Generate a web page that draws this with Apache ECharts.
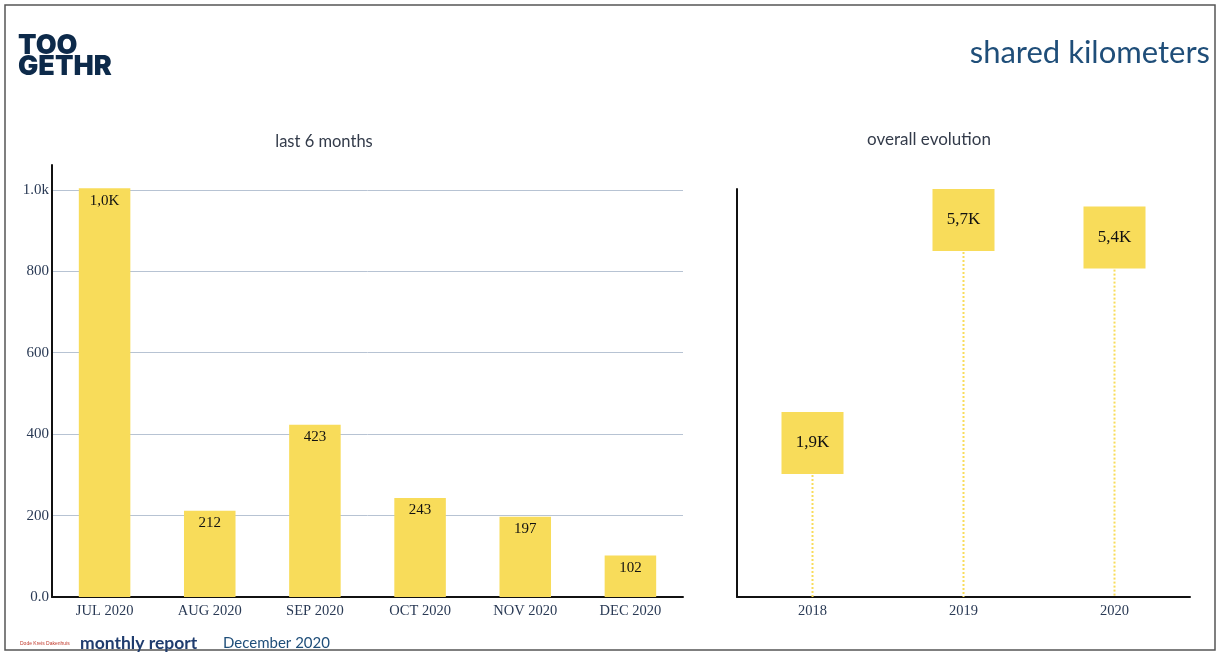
<!DOCTYPE html>
<html>
<head>
<meta charset="utf-8">
<script src="https://cdn.jsdelivr.net/npm/echarts@6/dist/echarts.min.js"></script>
<style>
html,body{margin:0;padding:0;background:#fff;}
#main{width:1217px;height:652px;}
</style>
</head>
<body>
<div id="main"></div>
<script>
// ---- data ----
const monthCategories = ['JUL 2020', 'AUG 2020', 'SEP 2020', 'OCT 2020', 'NOV 2020', 'DEC 2020'];
const monthValues = [1004, 212, 423, 243, 197, 102];
const yearCategories = ['2018', '2019', '2020'];
const yearValues = [1900, 5700, 5400];
const leftTickLabels = {0: '0.0', 200: '200', 400: '400', 600: '600', 800: '800', 1000: '1.0k'};

const YELLOW = '#f8dc5a';
const AXIS_TXT = '#2a3a55';
const SERIF = '"Liberation Serif", "DejaVu Serif", serif';
const SANS = 'Lato, "Open Sans", "Liberation Sans", sans-serif';
const RIGHT_MIN = -724;

function fmtK(v) {
  if (v >= 1000) return (v / 1000).toFixed(1).replace('.', ',') + 'K';
  return String(v);
}

const chart = echarts.init(document.getElementById('main'), null, {renderer: 'canvas'});

const option = {
  backgroundColor: '#fff',
  animation: false,
  title: [
    {text: 'last 6 months', left: 319, top: 128, textAlign: 'center',
     textStyle: {fontFamily: SANS, fontSize: 16.5, fontWeight: 'normal', color: '#333b4a'}},
    {text: 'overall evolution', left: 924, top: 126, textAlign: 'center',
     textStyle: {fontFamily: SANS, fontSize: 17, fontWeight: 'normal', color: '#333b4a'}}
  ],
  grid: [
    {left: 52, right: 534, top: 165, bottom: 55, containLabel: false},
    {left: 737, right: 27, top: 189, bottom: 55, containLabel: false}
  ],
  xAxis: [
    {type: 'category', gridIndex: 0, data: monthCategories,
     axisLine: {onZero: false, lineStyle: {color: '#111', width: 2}},
     axisTick: {show: false},
     axisLabel: {fontFamily: SERIF, fontSize: 14.5, color: AXIS_TXT, margin: 7}},
    {type: 'category', gridIndex: 1, data: yearCategories,
     axisLine: {onZero: false, lineStyle: {color: '#111', width: 2}},
     axisTick: {show: false},
     axisLabel: {fontFamily: SERIF, fontSize: 14.5, color: AXIS_TXT, margin: 7}}
  ],
  yAxis: [
    {type: 'value', gridIndex: 0, min: 0, max: 1061, interval: 200,
     axisLine: {show: true, lineStyle: {color: '#111', width: 2}},
     axisTick: {show: false},
     axisLabel: {fontFamily: SERIF, fontSize: 15, color: AXIS_TXT, margin: 3, showMaxLabel: false,
       formatter: v => (leftTickLabels[v] !== undefined ? leftTickLabels[v] : '')},
     splitLine: {show: true, showMaxLine: false, showMinLine: false, lineStyle: {color: '#b7c3d3', width: 1}}},
    {type: 'value', gridIndex: 1, min: RIGHT_MIN, max: 6228,
     axisLine: {show: true, onZero: false, lineStyle: {color: '#111', width: 2}},
     axisTick: {show: false},
     axisLabel: {show: false},
     splitLine: {show: false}}
  ],
  series: [
    {type: 'bar', xAxisIndex: 0, yAxisIndex: 0, data: monthValues, barWidth: '49%',
     itemStyle: {color: YELLOW},
     label: {show: true, position: 'insideTop', distance: 5, fontFamily: SERIF, fontSize: 15,
       color: '#111', formatter: p => fmtK(p.value)}},
    {type: 'custom', xAxisIndex: 1, yAxisIndex: 1, data: yearValues, z: 1,
     renderItem: function (params, api) {
       const top = api.coord([api.value(0), api.value(1)]);
       const bottom = api.coord([api.value(0), RIGHT_MIN]);
       return {type: 'line', shape: {x1: top[0], y1: top[1], x2: bottom[0], y2: bottom[1]},
         style: {stroke: YELLOW, lineWidth: 2, lineDash: [2, 2]}};
     },
     encode: {x: 0, y: 1}},
    {type: 'scatter', xAxisIndex: 1, yAxisIndex: 1, data: yearValues, z: 3,
     symbol: 'rect', symbolSize: 62, itemStyle: {color: YELLOW, opacity: 1},
     label: {show: true, position: 'inside', fontFamily: SERIF, fontSize: 17, color: '#111',
       formatter: p => fmtK(p.value)}}
  ],
  graphic: [
    {type: 'rect', shape: {x: 5, y: 5, width: 1210, height: 645},
     style: {fill: 'none', stroke: '#555', lineWidth: 1.5}, silent: true},
    {type: 'text', left: 18, top: 32,
     style: {text: 'TOO\nGETHR', font: '900 27px Inter, "Noto Sans", sans-serif', fill: '#0d2a4a', lineHeight: 21}},
    {type: 'text', right: 7, top: 37,
     style: {text: 'shared kilometers', font: '31px ' + SANS, fill: '#1f4e79'}},
    {type: 'text', left: 20, top: 641,
     style: {text: 'Dode Kreis Dakenhuis', font: '5px "Liberation Sans", sans-serif', fill: '#c0392b'}},
    {type: 'text', left: 80, top: 634,
     style: {text: 'monthly report', font: 'bold 17.5px ' + SANS, fill: '#1f3c6e'}},
    {type: 'text', left: 223, top: 636,
     style: {text: 'December 2020', font: '15px ' + SANS, fill: '#1f4e79'}}
  ]
};
chart.setOption(option);
</script>
</body>
</html>
